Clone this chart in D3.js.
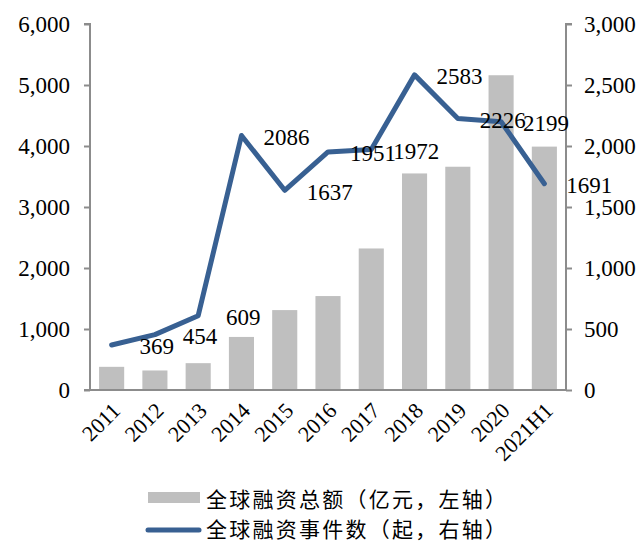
<!DOCTYPE html>
<html>
<head>
<meta charset="utf-8">
<script src="https://cdn.jsdelivr.net/npm/d3@7/dist/d3.min.js"></script>
<style>
  html, body { margin: 0; padding: 0; background: #fff; }
  svg { display: block; }
</style>
</head>
<body>
<svg id="chart" width="641" height="543"></svg>
<script>
const categories = ["2011","2012","2013","2014","2015","2016","2017","2018","2019","2020","2021H1"];
const amountValues = [380, 320, 440, 870, 1310, 1540, 2320, 3550, 3660, 5160, 3990];
const eventValues = [369, 454, 609, 2086, 1637, 1951, 1972, 2583, 2226, 2199, 1691];
const leftTicks = [0, 1000, 2000, 3000, 4000, 5000, 6000];
const rightTicks = [0, 500, 1000, 1500, 2000, 2500, 3000];
const legendLabels = ["全球融资总额（亿元，左轴）", "全球融资事件数（起，右轴）"];

const svg = d3.select("#chart");
const pL = 90, pR = 566, pT = 24, pB = 390;
const numFont = "'Liberation Serif', 'Times New Roman', serif";
const cjkFont = "'Noto Sans CJK SC', sans-serif";
const axisColor = "#8c8c8c";
const barColor = "#bfbfbf";
const lineColor = "#386092";

const x = d3.scaleBand().domain(categories).range([pL, pR]).paddingInner(0.42).paddingOuter(0.21);
const yL = d3.scaleLinear().domain([0, 6000]).range([pB, pT]);
const yR = d3.scaleLinear().domain([0, 3000]).range([pB, pT]);
const fmt = d3.format(",");

// bars
svg.append("g").selectAll("rect").data(categories).join("rect")
  .attr("x", d => x(d))
  .attr("width", x.bandwidth())
  .attr("y", (d, i) => yL(amountValues[i]))
  .attr("height", (d, i) => pB - yL(amountValues[i]))
  .attr("fill", barColor);

// left axis
const gL = svg.append("g").attr("transform", `translate(${pL},0)`)
  .call(d3.axisLeft(yL).tickValues(leftTicks).tickFormat(fmt).tickSize(6).tickPadding(14));
// right axis
const gR = svg.append("g").attr("transform", `translate(${pR},0)`)
  .call(d3.axisRight(yR).tickValues(rightTicks).tickFormat(fmt).tickSize(6).tickPadding(12));
[gL, gR].forEach(g => {
  g.attr("font-family", numFont);
  g.select(".domain").attr("stroke", axisColor).attr("stroke-width", 2);
  g.selectAll(".tick line").attr("stroke", axisColor).attr("stroke-width", 2);
  g.selectAll(".tick text").attr("font-family", numFont).attr("font-size", 23).attr("fill", "#000");
});
gL.select(".domain").attr("d", `M-6,${pT}H0V${pB}`);
gR.select(".domain").attr("d", `M6,${pT}H0V${pB}`);

// x axis
const gX = svg.append("g").attr("transform", `translate(0,${pB})`)
  .call(d3.axisBottom(x).tickSize(0).tickPadding(0));
gX.attr("font-family", numFont);
gX.select(".domain").attr("stroke", axisColor).attr("stroke-width", 2).attr("d", `M${pL - 6},0H${pR}`);
gX.selectAll(".tick text")
  .attr("font-family", numFont).attr("font-size", 22).attr("fill", "#000")
  .attr("text-anchor", "end")
  .attr("dy", 0)
  .attr("transform", "translate(10,22) rotate(-45)");

// line
const line = d3.line().x((d, i) => x(categories[i]) + x.bandwidth() / 2).y(d => yR(d));
svg.append("path").datum(eventValues)
  .attr("d", line)
  .attr("fill", "none")
  .attr("stroke", lineColor)
  .attr("stroke-width", 5)
  .attr("stroke-linejoin", "round")
  .attr("stroke-linecap", "round");

// data labels
svg.append("g").selectAll("text").data(eventValues).join("text")
  .attr("x", (d, i) => x(categories[i]) + x.bandwidth() / 2 + 45)
  .attr("y", d => yR(d) + 2)
  .attr("text-anchor", "middle")
  .attr("dominant-baseline", "central")
  .attr("font-family", numFont).attr("font-size", 23).attr("fill", "#000")
  .text(d => d);

// legend
const lg = svg.append("g");
lg.append("rect").attr("x", 148).attr("y", 492).attr("width", 52).attr("height", 11).attr("fill", barColor);
lg.append("line").attr("x1", 148).attr("x2", 199).attr("y1", 530).attr("y2", 530)
  .attr("stroke", lineColor).attr("stroke-width", 5).attr("stroke-linecap", "round");
lg.selectAll("text").data(legendLabels).join("text")
  .attr("x", 206).attr("y", (d, i) => 498 + i * 30)
  .attr("dominant-baseline", "central")
  .attr("font-family", cjkFont).attr("font-size", 21)
  .attr("textLength", 300).attr("lengthAdjust", "spacing")
  .attr("fill", "#000")
  .text(d => d);
</script>
</body>
</html>
